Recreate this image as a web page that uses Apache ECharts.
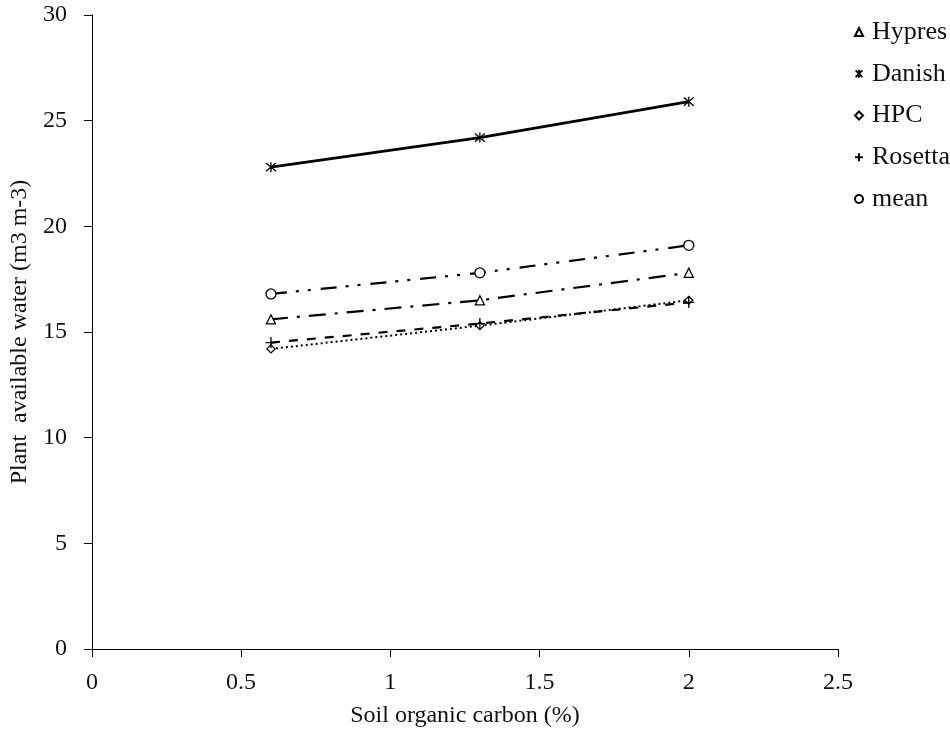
<!DOCTYPE html>
<html>
<head>
<meta charset="utf-8">
<script src="https://cdn.jsdelivr.net/npm/echarts@6/dist/echarts.min.js"></script>
<style>
html,body{margin:0;padding:0;background:#fff;}
#chart{width:950px;height:735px;}
</style>
</head>
<body>
<div id="chart"></div>
<script>
const soilCarbon = [0.6, 1.3, 2.0];
const hypres  = [15.6, 16.5, 17.8];
const danish  = [22.8, 24.2, 25.9];
const hpc     = [14.2, 15.3, 16.5];
const rosetta = [14.5, 15.4, 16.4];
const meanVal = [16.8, 17.8, 19.1];
const seriesNames = ['Hypres', 'Danish', 'HPC', 'Rosetta', 'mean'];
const xTicks = {min: 0, max: 2.5, step: 0.5};
const yTicks = {min: 0, max: 30, step: 5};
const xAxisTitle = 'Soil organic carbon (%)';
const yAxisTitle = 'Plant  available water (m3 m-3)';

const FONT = '"Liberation Serif", "Times New Roman", serif';
const STAR = 'path://M0,0L10,10M10,0L0,10M5,-1L5,11';
const PLUS = 'path://M5,0L5,10M0,5L10,5';

function pairs(vals){ return soilCarbon.map((x,i)=>[x, vals[i]]); }

function mk(name, vals, symbol, size, lineWidth, dash){
  return {
    name: name,
    type: 'line',
    data: pairs(vals),
    symbol: symbol,
    symbolSize: size,
    showAllSymbol: true,
    z: 3,
    itemStyle: {color: '#fff', borderColor: '#000', borderWidth: 1.3},
    lineStyle: {color: '#000', width: lineWidth, type: dash},
    emphasis: {disabled: true},
    animation: false
  };
}

const chart = echarts.init(document.getElementById('chart'));
chart.setOption({
  backgroundColor: '#fff',
  animation: false,
  grid: {left: 82, right: 112, top: 15, bottom: 86, containLabel: false},
  legend: {
    orient: 'vertical',
    left: 849,
    top: 13,
    itemWidth: 8,
    itemHeight: 8,
    itemGap: 13.75,
    textStyle: {fontFamily: FONT, fontSize: 26, color: '#111', lineHeight: 28, padding: [0, 0, 0, 4]},
    data: [
      {name: 'Hypres', icon: 'triangle'},
      {name: 'Danish', icon: STAR},
      {name: 'HPC', icon: 'diamond'},
      {name: 'Rosetta', icon: PLUS},
      {name: 'mean', icon: 'circle'}
    ]
  },
  xAxis: {
    type: 'value',
    min: xTicks.min, max: xTicks.max, interval: xTicks.step,
    name: xAxisTitle,
    nameLocation: 'middle',
    nameGap: 55,
    nameTextStyle: {fontFamily: FONT, fontSize: 24, color: '#111'},
    axisLine: {show: true, onZero: false, lineStyle: {color: '#000', width: 1}},
    axisTick: {show: true, length: 8, lineStyle: {color: '#000'}},
    axisLabel: {fontFamily: FONT, fontSize: 24, color: '#111', margin: 22},
    splitLine: {show: false}
  },
  yAxis: {
    type: 'value',
    min: yTicks.min, max: yTicks.max, interval: yTicks.step,
    name: yAxisTitle,
    nameLocation: 'middle',
    nameGap: 59,
    nameTextStyle: {fontFamily: FONT, fontSize: 24, color: '#111'},
    axisLine: {show: true, onZero: false, lineStyle: {color: '#000', width: 1}},
    axisTick: {show: true, length: 8, lineStyle: {color: '#000'}},
    axisLabel: {fontFamily: FONT, fontSize: 24, color: '#111', margin: 25},
    splitLine: {show: false}
  },
  series: [
    mk(seriesNames[0], hypres, 'triangle', 9, 2.2, [17, 9, 3, 9]),
    mk(seriesNames[1], danish, STAR, 10, 2.8, 'solid'),
    mk(seriesNames[2], hpc, 'diamond', 8, 2, [2, 3]),
    mk(seriesNames[3], rosetta, PLUS, 11, 2.2, [9, 9]),
    mk(seriesNames[4], meanVal, 'circle', 10, 2.2, [16, 9, 3, 9, 3, 10])
  ]
});
</script>
</body>
</html>
